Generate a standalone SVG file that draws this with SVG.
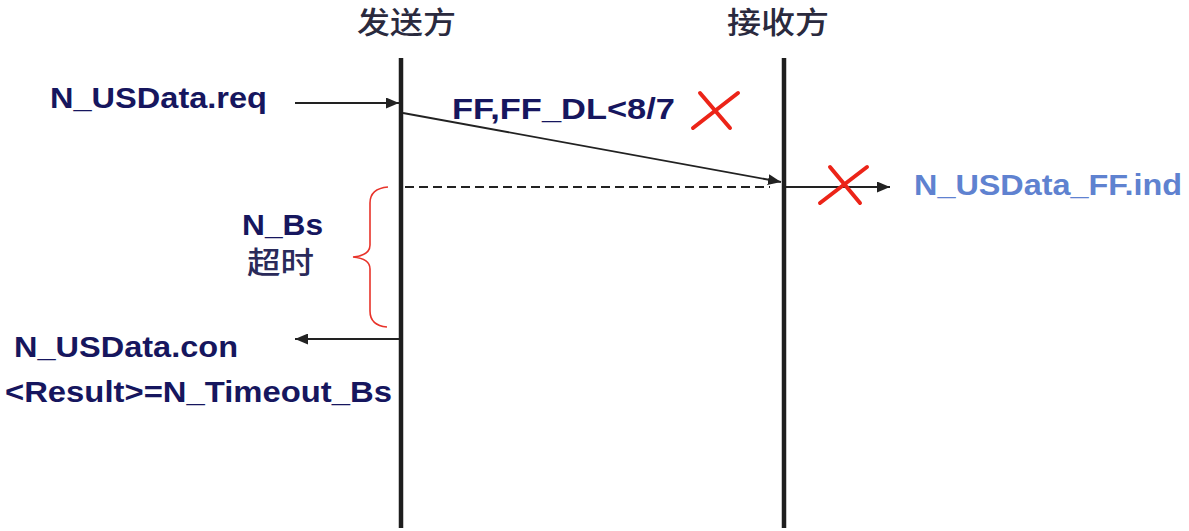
<svg xmlns="http://www.w3.org/2000/svg" width="1189" height="531" viewBox="0 0 1189 531">
<style>
.lbl{font-family:"Liberation Sans",Arial,sans-serif;font-weight:bold;font-size:29.5px;fill:#16165e}
.cjk{font-family:"Noto Sans CJK SC","Liberation Sans",sans-serif;font-size:30px;font-weight:500;fill:#2a2a3e}
.life{stroke:#1e1e1e;stroke-width:4.5;fill:none}
.msg{stroke:#222;stroke-width:1.8;fill:none}
.cross{stroke:#ec2418;stroke-width:4;stroke-linecap:round;fill:none}
</style>
<defs>
<marker id="ah" viewBox="0 0 13 11" refX="13" refY="5.5" markerWidth="13" markerHeight="11" markerUnits="userSpaceOnUse" orient="auto">
<path d="M0,0 L13,5.5 L0,11 Z" fill="#222"/>
</marker>
</defs>
<rect width="1189" height="531" fill="#fff"/>
<g id="sender">
<text class="cjk" x="357" y="33" textLength="99" lengthAdjust="spacingAndGlyphs">发送方</text>
<line class="life" x1="401" y1="58" x2="401" y2="528"/>
</g>
<g id="receiver">
<text class="cjk" x="727" y="33" textLength="102" lengthAdjust="spacingAndGlyphs">接收方</text>
<line class="life" x1="784" y1="58" x2="784" y2="528"/>
</g>
<g id="connectors">
<line class="msg" x1="295" y1="103" x2="399" y2="103" marker-end="url(#ah)"/>
<line class="msg" x1="403" y1="113" x2="781" y2="182" marker-end="url(#ah)"/>
<line class="msg" x1="405" y1="187" x2="770" y2="187" stroke-width="2.2" stroke-dasharray="9,5"/>
<line class="msg" x1="786" y1="187" x2="890" y2="187" marker-end="url(#ah)"/>
<line class="msg" x1="399" y1="339" x2="295" y2="339" marker-end="url(#ah)"/>
</g>
<g id="req-label">
<text class="lbl" x="50" y="108" textLength="217" lengthAdjust="spacingAndGlyphs">N_USData.req</text>
</g>
<g id="ff-label">
<text class="lbl" x="452" y="119" textLength="223" lengthAdjust="spacingAndGlyphs">FF,FF_DL&lt;8/7</text>
</g>
<g id="cross1">
<line class="cross" x1="700" y1="93" x2="730" y2="128"/>
<line class="cross" x1="738" y1="93" x2="693" y2="128"/>
</g>
<g id="cross2">
<line class="cross" x1="830" y1="167" x2="860" y2="203"/>
<line class="cross" x1="867" y1="167" x2="820" y2="203"/>
</g>
<g id="ind-label">
<text class="lbl" x="914" y="195" textLength="268" lengthAdjust="spacingAndGlyphs" style="fill:#5f82d0">N_USData_FF.ind</text>
</g>
<g id="brace">
<path d="M388,187 C376,188 370,193 370,203 L370,245 C370,252 364,256 353,257 C364,258 370,262 370,269 L370,311 C370,321 376,326 387,327" fill="none" stroke="#e8332a" stroke-width="1.6"/>
</g>
<g id="nbs-label">
<text class="lbl" x="242" y="235" textLength="81" lengthAdjust="spacingAndGlyphs">N_Bs</text>
<text class="cjk" x="247" y="273" textLength="67" lengthAdjust="spacingAndGlyphs" style="fill:#2a2a5a">超时</text>
</g>
<g id="con-label">
<text class="lbl" x="14" y="357" textLength="224" lengthAdjust="spacingAndGlyphs">N_USData.con</text>
<text class="lbl" x="5" y="402" textLength="387" lengthAdjust="spacingAndGlyphs">&lt;Result&gt;=N_Timeout_Bs</text>
</g>
</svg>
